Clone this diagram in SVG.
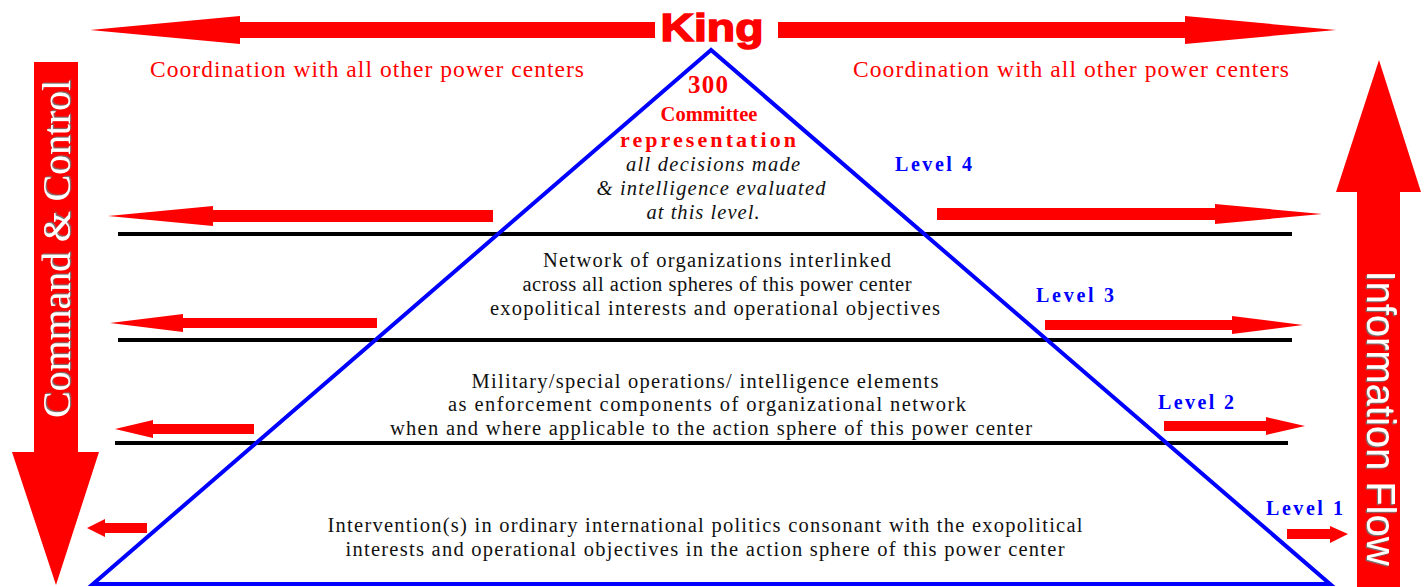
<svg xmlns="http://www.w3.org/2000/svg" width="1427" height="587" viewBox="0 0 1427 587">
<defs>
<style>
.red{fill:#ff0000}
.body{font-family:"Liberation Serif","Times New Roman",serif;font-size:20.5px;fill:#111;text-anchor:middle}
.lvl{font-family:"Liberation Serif","Times New Roman",serif;font-size:20px;font-weight:bold;fill:#0000ff}
.coord{font-family:"Liberation Serif","Times New Roman",serif;font-size:23.5px;fill:#ff0000}
.top{font-family:"Liberation Serif","Times New Roman",serif;font-size:20.5px;font-weight:bold;fill:#ff0000;text-anchor:middle}
.it{font-family:"Liberation Serif","Times New Roman",serif;font-size:20.5px;font-style:italic;fill:#111;text-anchor:middle}
.hl{stroke:#000;stroke-width:4}
</style>
<filter id="sh" x="-10%" y="-30%" width="120%" height="160%">
<feDropShadow dx="1.2" dy="1.2" stdDeviation="0.4" flood-color="#777"/>
</filter>
</defs>

<g id="command-control">
<polygon class="red" points="34,62 78,62 78,452 99,452 56,585 12,452 34,452"/>
<text transform="translate(70,249) rotate(-90)" text-anchor="middle" font-family="Liberation Serif, serif" font-size="40" fill="#fff" filter="url(#sh)" textLength="338">Command &amp; Control</text>
</g>

<g id="information-flow">
<polygon class="red" points="1357,587 1357,192 1336,192 1379,60 1421,192 1400,192 1400,587"/>
<text transform="translate(1367,418) rotate(90)" text-anchor="middle" font-family="Liberation Sans, Arial, sans-serif" font-size="40" fill="#fff" filter="url(#sh)" textLength="295" lengthAdjust="spacingAndGlyphs">Information Flow</text>
</g>

<g id="king">
<text x="712" y="41" text-anchor="middle" font-family="Liberation Sans, Arial, sans-serif" font-weight="900" font-size="39" fill="#ff0000" stroke="#ff0000" stroke-width="1.5" textLength="103" lengthAdjust="spacingAndGlyphs">King</text>
</g>

<g id="coordination">
<text class="coord" x="150" y="77" textLength="434">Coordination with all other power centers</text>
<text class="coord" x="853" y="77" textLength="436">Coordination with all other power centers</text>
</g>

<g id="connectors">
<polygon class="red" points="655,22 240,22 240,16 90,30 240,44 240,38 655,38"/>
<polygon class="red" points="778,22 1185,22 1185,16 1336,30 1185,44 1185,38 778,38"/>
<polygon class="red" points="493,210 213,210 213,206 108,216 213,226 213,222 493,222"/>
<polygon class="red" points="937,208 1215,208 1215,204 1322,214 1215,224 1215,220 937,220"/>
<polygon class="red" points="377,318 183,318 183,314 110,323 183,332 183,328 377,328"/>
<polygon class="red" points="1045,320 1232,320 1232,316 1303,325 1232,334 1232,330 1045,330"/>
<polygon class="red" points="254,424 153,424 153,420 115,429 153,438 153,434 254,434"/>
<polygon class="red" points="1164,421 1266,421 1266,417 1305,426 1266,435 1266,431 1164,431"/>
<polygon class="red" points="147,523 105,523 105,519 87,528 105,537 105,533 147,533"/>
<polygon class="red" points="1287,529 1330,529 1330,526 1348,534 1330,543 1330,539 1287,539"/>
<line class="hl" x1="118" y1="234" x2="1292" y2="234"/>
<line class="hl" x1="118" y1="340" x2="1292" y2="340"/>
<line class="hl" x1="115" y1="443" x2="1288" y2="443"/>
</g>

<g id="pyramid">
<polygon points="711,50 93,584 1330,584" fill="none" stroke="#0000ff" stroke-width="4" stroke-linejoin="miter"/>
</g>

<g id="level-4">
<text class="top" x="708" y="93" style="font-size:25px" textLength="40">300</text>
<text class="top" x="709" y="121">Committee</text>
<text class="top" x="708" y="147" style="font-size:22px" textLength="176">representation</text>
<text class="it" x="713" y="171" textLength="174">all decisions made</text>
<text class="it" x="711" y="195" textLength="229">&amp; intelligence evaluated</text>
<text class="it" x="703" y="219" textLength="113">at this level.</text>
<text class="lvl" x="895" y="171" textLength="77">Level 4</text>
</g>

<g id="level-3">
<text class="body" x="717" y="267" textLength="348">Network of organizations interlinked</text>
<text class="body" x="717" y="291" textLength="389">across all action spheres of this power center</text>
<text class="body" x="715" y="315" textLength="450">exopolitical interests and operational objectives</text>
<text class="lvl" x="1036" y="302" textLength="78">Level 3</text>
</g>

<g id="level-2">
<text class="body" x="705" y="388" textLength="467">Military/special operations/ intelligence elements</text>
<text class="body" x="707" y="411" textLength="518">as enforcement components of organizational network</text>
<text class="body" x="711" y="435" textLength="642">when and where applicable to the action sphere of this power center</text>
<text class="lvl" x="1158" y="409" textLength="76">Level 2</text>
</g>

<g id="level-1">
<text class="body" x="705" y="532" textLength="755">Intervention(s) in ordinary international politics consonant with the exopolitical</text>
<text class="body" x="705" y="556" textLength="719">interests and operational objectives in the action sphere of this power center</text>
<text class="lvl" x="1266" y="515" textLength="77">Level 1</text>
</g>
</svg>
